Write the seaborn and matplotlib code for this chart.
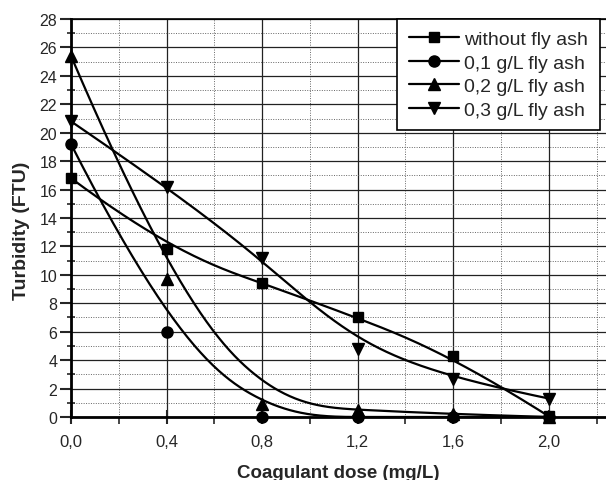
import numpy as np
import pandas as pd
import matplotlib
matplotlib.use("Agg")
import matplotlib.pyplot as plt
from matplotlib.lines import Line2D
from matplotlib.ticker import MultipleLocator, FuncFormatter
import seaborn as sns

# ================
# Data
# ================
dose = [0.0, 0.4, 0.8, 1.2, 1.6, 2.0]
no_ash = [16.8, 11.8, 9.4, 7.0, 4.3, 0.05]
ash_01 = [19.2, 6.0, 0.0, 0.0, 0.0, 0.0]
ash_02 = [25.4, 9.7, 0.9, 0.5, 0.2, 0.0]
ash_03 = [20.8, 16.2, 11.2, 4.8, 2.7, 1.3]

labels = ["without fly ash", "0,1 g/L fly ash", "0,2 g/L fly ash", "0,3 g/L fly ash"]
series = [no_ash, ash_01, ash_02, ash_03]
markers = ["s", "o", "^", "v"]
msizes = [7, 8, 8.5, 8.5]


# ================
# Smoothing (clamped cubic B-spline with the data as control points)
# ================
def bspline(xs, ys, n=300, k=3):
    pts = np.column_stack([xs, ys]).astype(float)
    m = len(pts)
    inner = np.arange(1, m - k)
    knots = np.concatenate([np.zeros(k + 1), inner, np.full(k + 1, m - k)]).astype(float)
    t = np.linspace(0, m - k, n)
    t[-1] -= 1e-9
    # Cox-de Boor
    B = np.zeros((n, len(knots) - 1))
    for i in range(len(knots) - 1):
        B[:, i] = (t >= knots[i]) & (t < knots[i + 1])
    for d in range(1, k + 1):
        Bn = np.zeros((n, len(knots) - 1 - d))
        for i in range(len(knots) - 1 - d):
            a = knots[i + d] - knots[i]
            b = knots[i + d + 1] - knots[i + 1]
            left = (t - knots[i]) / a * B[:, i] if a > 0 else 0
            right = (knots[i + d + 1] - t) / b * B[:, i + 1] if b > 0 else 0
            Bn[:, i] = left + right
        B = Bn
    curve = B @ pts
    return curve[:, 0], curve[:, 1]


# ================
# Plot
# ================
sns.set_style("white")
plt.rcParams["font.family"] = ["Liberation Sans", "DejaVu Sans"]

fig = plt.figure(figsize=(6.06, 4.81), dpi=100)
ax = fig.add_axes([0.1172, 0.131, 0.883, 0.8274])

for ys, mk, ms in zip(series, markers, msizes):
    cx, cy = bspline(dose, ys)
    curve = pd.DataFrame({"x": cx, "y": cy})
    sns.lineplot(data=curve, x="x", y="y", ax=ax, color="black", lw=1.6,
                 sort=False, estimator=None)
    pts = pd.DataFrame({"x": dose, "y": ys})
    ax.plot(pts["x"], pts["y"], ls="none", marker=mk, ms=ms, color="black",
            clip_on=False, zorder=5)

ax.set_xlim(0, 2.24)
ax.set_ylim(0, 28)
ax.xaxis.set_major_locator(MultipleLocator(0.4))
ax.xaxis.set_minor_locator(MultipleLocator(0.2))
ax.yaxis.set_major_locator(MultipleLocator(2))
ax.yaxis.set_minor_locator(MultipleLocator(1))
ax.xaxis.set_major_formatter(FuncFormatter(lambda v, p: f"{v:.1f}".replace(".", ",")))

ax.grid(which="major", color="#222222", lw=0.9, ls="-")
ax.grid(which="minor", color="#666666", lw=0.7, ls=(0, (1, 1.5)))
ax.set_axisbelow(True)

for s in ["left", "bottom"]:
    ax.spines[s].set_linewidth(2)
    ax.spines[s].set_color("black")
ax.spines["top"].set_linewidth(1.2)
ax.spines["top"].set_color("black")
ax.spines["right"].set_visible(False)

ax.tick_params(axis="x", which="major", direction="inout", length=10, width=1.5,
               labelsize=12, pad=7)
ax.tick_params(axis="x", which="minor", direction="out", length=5, width=1.2)
ax.tick_params(axis="y", which="major", direction="out", length=8, width=1.5,
               labelsize=11.5, pad=2)
ax.tick_params(axis="y", which="minor", direction="inout", length=6, width=1.2)
ax.tick_params(bottom=True, left=True, which="both")

ax.set_xlabel("Coagulant dose (mg/L)", fontsize=13.5, fontweight="bold", labelpad=11)
ax.set_ylabel("Turbidity (FTU)", fontsize=14, fontweight="bold")
ax.yaxis.set_label_coords(-0.077, 0.47)

handles = [Line2D([], [], color="black", lw=1.6, marker=mk, ms=ms)
           for mk, ms in zip(markers, msizes)]
leg = ax.legend(handles, labels, loc="upper left", bbox_to_anchor=(0.609, 1.0),
                fontsize=14, frameon=True, fancybox=False, framealpha=1,
                edgecolor="black", handlelength=2.6, handletextpad=0.25,
                labelspacing=0.3, borderpad=0.6, borderaxespad=0)
leg.get_frame().set_linewidth(1.2)

fig.savefig("out.png", dpi=100)
